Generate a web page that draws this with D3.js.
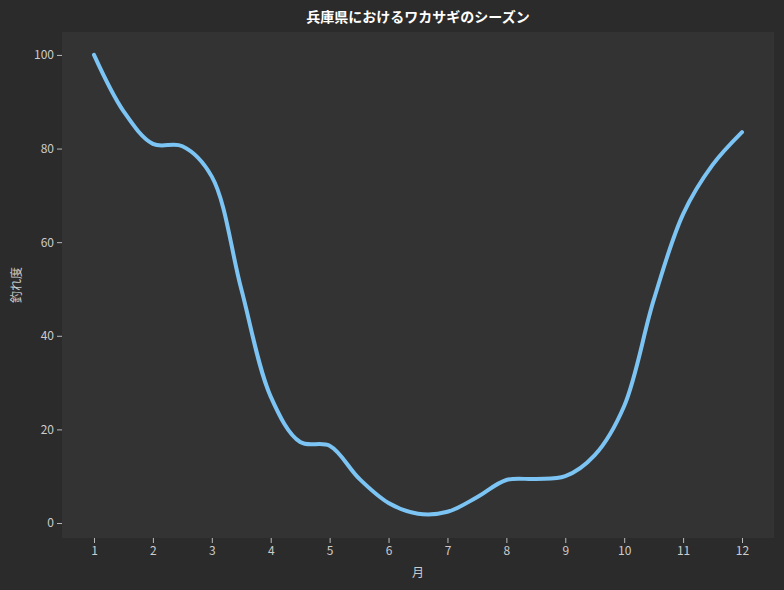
<!DOCTYPE html>
<html><head><meta charset="utf-8">
<script src="https://cdn.jsdelivr.net/npm/d3@7"></script>
<style>body{margin:0;background:#2b2b2b}svg{display:block}text{font-family:"Noto Sans CJK JP",sans-serif}</style>
</head><body>
<svg id="c" width="784" height="590"></svg>
<script>
const months = [1,1.5,2,2.5,3,3.5,4,4.5,5,5.5,6,6.5,7,7.5,8,8.5,9,9.5,10,10.5,11,11.5,12];
const values = [100,88,81,80.5,74,50,27,17.3,16.5,9.5,4.3,2,2.4,5.5,9.2,9.4,10,14.5,25,47.6,66,76.5,83.5];
const xTicks = [1,2,3,4,5,6,7,8,9,10,11,12];
const yTicks = [0,20,40,60,80,100];
const svg = d3.select("#c");
const L=62,R=774,T=32,B=538;
svg.append("rect").attr("width",784).attr("height",590).attr("fill","#2b2b2b");
svg.append("rect").attr("x",L).attr("y",T).attr("width",R-L).attr("height",B-T).attr("fill","#333333");
const x = d3.scaleLinear().domain([0.457,12.543]).range([L,R]);
const y = d3.scaleLinear().domain([-3.2,104.9]).range([B,T]);
const gx = svg.append("g").attr("transform",`translate(0,${B})`).call(d3.axisBottom(x).tickValues(xTicks).tickFormat(d3.format("d")).tickSize(5));
const gy = svg.append("g").attr("transform",`translate(${L},0)`).call(d3.axisLeft(y).tickValues(yTicks).tickSize(5));
[gx,gy].forEach(g=>{g.select(".domain").remove();g.selectAll("line").attr("stroke","#bbbbbb");g.selectAll("text").attr("fill","#cccccc").attr("font-size",12);});
const line = d3.line().x((d,i)=>x(months[i])).y(d=>y(d)).curve(d3.curveCatmullRom.alpha(0.5));
svg.append("path").datum(values).attr("d",line).attr("fill","none").attr("stroke","#7cc4f4").attr("stroke-width",4).attr("stroke-linecap","round");
svg.append("text").attr("x",418).attr("y",22).attr("text-anchor","middle").attr("fill","#ffffff").attr("font-size",14).attr("font-weight","bold").text("兵庫県におけるワカサギのシーズン");
svg.append("text").attr("x",418).attr("y",577).attr("text-anchor","middle").attr("fill","#cccccc").attr("font-size",12).text("月");
svg.append("text").attr("transform","translate(21,285) rotate(-90)").attr("text-anchor","middle").attr("fill","#cccccc").attr("font-size",12).text("釣れ度");
</script>
</body></html>
